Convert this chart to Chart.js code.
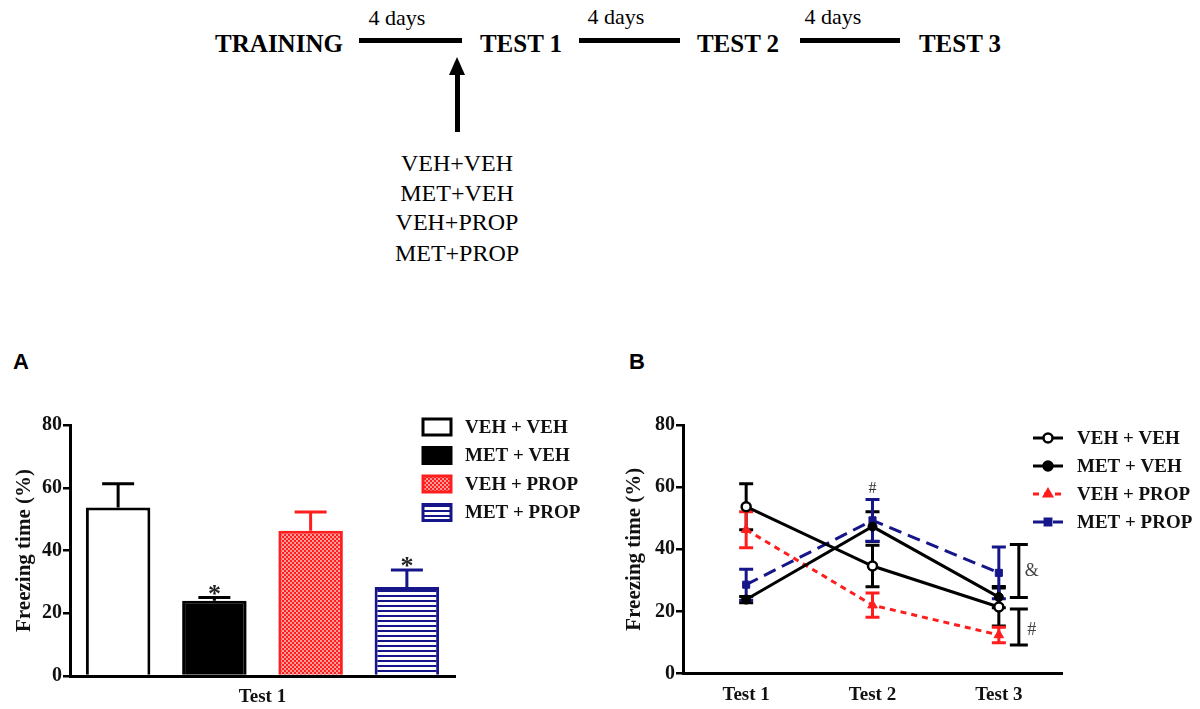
<!DOCTYPE html>
<html>
<head>
<meta charset="utf-8">
<script src="https://cdn.jsdelivr.net/npm/chart.js@4/dist/chart.umd.min.js"></script>
<style>
body{margin:0;width:1200px;height:709px;background:#fff;position:relative;overflow:hidden;font-family:"Liberation Serif",serif;color:#000;}
.t{position:absolute;white-space:nowrap;transform:translate(-50%,-50%);line-height:1;}
.b{font-weight:bold;font-size:25px;}
.d{font-size:22px;}
.g{font-size:24px;}
.p{font-family:"Liberation Sans",Arial,sans-serif;font-weight:bold;font-size:22px;}
.ln{position:absolute;height:5px;background:#000;top:38px;}
#shaft{position:absolute;left:455px;top:72px;width:5px;height:60px;background:#000;}
#head{position:absolute;left:449px;top:57px;width:0;height:0;border-left:8.5px solid transparent;border-right:8.5px solid transparent;border-bottom:18px solid #000;}
.box{position:absolute;top:400px;width:600px;height:309px;}
</style>
</head>
<body>
<!-- timeline -->
<div class="t b" style="left:279px;top:43px">TRAINING</div>
<div class="t b" style="left:521px;top:43px">TEST 1</div>
<div class="t b" style="left:738px;top:43px">TEST 2</div>
<div class="t b" style="left:960px;top:43px">TEST 3</div>
<div class="t d" style="left:397px;top:18px">4 days</div>
<div class="t d" style="left:616px;top:17px">4 days</div>
<div class="t d" style="left:833px;top:17px">4 days</div>
<div class="ln" style="left:359px;width:103px"></div>
<div class="ln" style="left:579px;width:101px"></div>
<div class="ln" style="left:800px;width:100px"></div>
<div id="head"></div><div id="shaft"></div>
<div class="t g" style="left:457px;top:163px">VEH+VEH</div>
<div class="t g" style="left:457px;top:193px">MET+VEH</div>
<div class="t g" style="left:457px;top:222px">VEH+PROP</div>
<div class="t g" style="left:457px;top:253px">MET+PROP</div>
<div class="t p" style="left:21px;top:362px">A</div>
<div class="t p" style="left:637px;top:362px">B</div>

<div class="box" style="left:0"><canvas id="chartA"></canvas></div>
<div class="box" style="left:600px"><canvas id="chartB"></canvas></div>

<script>
// groups and values (freezing time %, mean and SEM)
var groups = ['VEH + VEH', 'MET + VEH', 'VEH + PROP', 'MET + PROP'];
var barCategory = ['Test 1'];
var barMean = [53.7, 24.0, 46.3, 28.4];
var barSem = [7.6, 1.0, 6.0, 5.4];
var barMarks = ['', '*', '', '*'];

var sessions = ['Test 1', 'Test 2', 'Test 3'];
var vehVeh = [53.7, 34.6, 21.4];
var vehVehSem = [7.4, 6.7, 6.1];
var metVeh = [23.8, 47.3, 24.6];
var metVehSem = [1.0, 4.8, 3.4];
var vehProp = [46.3, 22.0, 12.4];
var vehPropSem = [5.8, 3.9, 2.5];
var metProp = [28.6, 49.3, 32.4];
var metPropSem = [5.0, 6.7, 8.3];
var sessionMarks = ['', '#', ''];
var brackets = [[24.5, 41.5, '&'], [9.2, 20.8, '#']];

var yTicks = [0, 20, 40, 60, 80];

var RED = '#ff1e1e';
var NAVY = '#16168a';
var SERIF = '"Liberation Serif", "Times New Roman", serif';

function makePattern(kind) {
    var c = document.createElement('canvas');
    var x = c.getContext('2d');
    if (kind == 'red') {
        c.width = 4; c.height = 4;
        x.fillStyle = RED; x.fillRect(0, 0, 4, 4);
        x.fillStyle = '#ff9a9a';
        x.fillRect(0, 0, 2, 2); x.fillRect(2, 2, 2, 2);
    } else {
        c.width = 8; c.height = 5;
        x.fillStyle = '#fff'; x.fillRect(0, 0, 8, 5);
        x.fillStyle = NAVY; x.fillRect(0, 0, 8, 2);
    }
    return x.createPattern(c, 'repeat');
}

// error bars, only upward for bars, both ways for lines
function errorBars(upOnly, cap, before) {
    var draw = function (chart) {
        var ctx = chart.ctx, y = chart.scales.y;
        chart.data.datasets.forEach(function (ds, i) {
            var meta = chart.getDatasetMeta(i);
            meta.data.forEach(function (el, j) {
                var v = ds.data[j], e = ds.sem[j];
                var top = y.getPixelForValue(v + e);
                var bot = y.getPixelForValue(upOnly ? v : v - e);
                ctx.save();
                ctx.strokeStyle = ds.errColor;
                ctx.lineWidth = 3;
                ctx.beginPath();
                ctx.moveTo(el.x, bot); ctx.lineTo(el.x, top);
                ctx.moveTo(el.x - cap, top); ctx.lineTo(el.x + cap, top);
                if (!upOnly) { ctx.moveTo(el.x - cap, bot); ctx.lineTo(el.x + cap, bot); }
                ctx.stroke();
                ctx.restore();
            });
        });
    };
    var p = { id: 'errorBars' };
    if (before) p.beforeDatasetsDraw = draw; else p.afterDatasetsDraw = draw;
    return p;
}

var starsA = {
    id: 'starsA',
    afterDatasetsDraw: function (chart) {
        var ctx = chart.ctx, y = chart.scales.y;
        chart.data.datasets.forEach(function (ds, i) {
            if (!barMarks[i]) return;
            var el = chart.getDatasetMeta(i).data[0];
            ctx.save();
            ctx.fillStyle = '#222';
            ctx.font = 'bold 26px ' + SERIF;
            ctx.textAlign = 'center';
            ctx.textBaseline = 'alphabetic';
            ctx.fillText(barMarks[i], el.x, y.getPixelForValue(ds.data[0] + ds.sem[0]) + 4);
            ctx.restore();
        });
    }
};

var legendA = {
    id: 'legendA',
    afterDraw: function (chart) {
        var ctx = chart.ctx;
        chart.data.datasets.forEach(function (ds, i) {
            var y = 27 + i * 28.5;
            ctx.save();
            ctx.fillStyle = ds.backgroundColor;
            ctx.fillRect(423, y - 8, 28, 16);
            ctx.lineWidth = 3;
            ctx.strokeStyle = ds.borderColor;
            ctx.strokeRect(423, y - 8, 28, 16);
            ctx.fillStyle = '#111';
            ctx.font = 'bold 19px ' + SERIF;
            ctx.textBaseline = 'middle';
            ctx.fillText(ds.label, 465, y + 1);
            ctx.restore();
        });
    }
};

var legendB = {
    id: 'legendB',
    afterDraw: function (chart) {
        var ctx = chart.ctx;
        chart.data.datasets.forEach(function (ds, i) {
            var y = 38 + i * 28;
            ctx.save();
            ctx.strokeStyle = ds.borderColor;
            ctx.lineWidth = 3;
            ctx.setLineDash(ds.borderDash || []);
            ctx.beginPath(); ctx.moveTo(433, y); ctx.lineTo(463, y); ctx.stroke();
            ctx.setLineDash([]);
            ctx.fillStyle = ds.pointBackgroundColor;
            ctx.strokeStyle = ds.pointBorderColor;
            ctx.lineWidth = 2.5;
            Chart.helpers.drawPoint(ctx, { pointStyle: ds.pointStyle, radius: 4.5, rotation: 0, borderWidth: 2.5 }, 448, y);
            ctx.fillStyle = '#111';
            ctx.font = 'bold 19px ' + SERIF;
            ctx.textBaseline = 'middle';
            ctx.fillText(ds.label, 477, y + 1);
            ctx.restore();
        });
    }
};

var notesB = {
    id: 'notesB',
    afterDatasetsDraw: function (chart) {
        var ctx = chart.ctx, x = chart.scales.x, y = chart.scales.y;
        ctx.save();
        ctx.fillStyle = '#333';
        ctx.font = '16px ' + SERIF;
        ctx.textAlign = 'center';
        ctx.textBaseline = 'middle';
        sessionMarks.forEach(function (m, j) {
            if (m) ctx.fillText(m, x.getPixelForValue(j), y.getPixelForValue(Math.max(metProp[j] + metPropSem[j], vehVeh[j]) + 3.5));
        });
        var bx = x.getPixelForValue(sessions.length - 1) + 20;
        ctx.strokeStyle = '#000';
        ctx.lineWidth = 3;
        brackets.forEach(function (b) {
            var y0 = y.getPixelForValue(b[0]), y1 = y.getPixelForValue(b[1]);
            ctx.beginPath();
            ctx.moveTo(bx, y0); ctx.lineTo(bx, y1);
            ctx.moveTo(bx - 9, y0); ctx.lineTo(bx + 9, y0);
            ctx.moveTo(bx - 9, y1); ctx.lineTo(bx + 9, y1);
            ctx.stroke();
            ctx.font = '18px ' + SERIF;
            ctx.fillStyle = '#444';
            ctx.fillText(b[2], bx + 13, (y0 + y1) / 2 + (b[2] == '#' ? 3 : 0));
        });
        ctx.restore();
    }
};

function yAxis(width, titlePad) {
    return {
        min: 0, max: 80,
        afterBuildTicks: function (s) { s.ticks = yTicks.map(function (v) { return { value: v }; }); },
        afterFit: function (s) { s.width = width; },
        border: { color: '#000', width: 3 },
        grid: { display: true, drawOnChartArea: false, drawTicks: true, tickLength: 7, color: '#000', lineWidth: 2.5 },
        ticks: { color: '#111', padding: 1, font: { family: SERIF, size: 20, weight: 'bold' } },
        title: { display: true, text: 'Freezing time (%)', color: '#111', padding: { top: titlePad, bottom: 0 },
                 font: { family: SERIF, size: 21, weight: 'bold' } }
    };
}

function xAxis(height) {
    return {
        afterFit: function (s) { s.height = height; },
        border: { color: '#000', width: 3 },
        grid: { display: false, drawTicks: false },
        ticks: { color: '#111', padding: 10, font: { family: SERIF, size: 19, weight: 'bold' } }
    };
}

Chart.defaults.animation = false;

var barBorders = ['#000', '#000', RED, NAVY];
var barFills = ['#fff', '#000', makePattern('red'), makePattern('blue')];

new Chart(document.getElementById('chartA'), {
    type: 'bar',
    data: {
        labels: barCategory,
        datasets: groups.map(function (g, i) {
            return {
                label: g,
                data: [barMean[i]],
                sem: [barSem[i]],
                backgroundColor: barFills[i],
                borderColor: barBorders[i],
                errColor: barBorders[i],
                borderWidth: 3,
                borderSkipped: 'bottom',
                categoryPercentage: 1.0,
                barPercentage: 0.67
            };
        })
    },
    options: {
        responsive: true,
        maintainAspectRatio: false,
        layout: { padding: { left: 0, top: 25, right: 145, bottom: 0 } },
        plugins: { legend: { display: false }, tooltip: { enabled: false } },
        scales: { x: xAxis(33), y: yAxis(70, 12) }
    },
    plugins: [errorBars(true, 16, false), starsA, legendA]
});

new Chart(document.getElementById('chartB'), {
    type: 'line',
    data: {
        labels: sessions,
        datasets: [{
            label: groups[0], data: vehVeh, sem: vehVehSem, errColor: '#000',
            borderColor: '#000', borderWidth: 3,
            pointStyle: 'circle', pointRadius: 4.5, pointBackgroundColor: '#fff', pointBorderColor: '#000', pointBorderWidth: 2.5
        }, {
            label: groups[1], data: metVeh, sem: metVehSem, errColor: '#000',
            borderColor: '#000', borderWidth: 3,
            pointStyle: 'circle', pointRadius: 4.5, pointBackgroundColor: '#000', pointBorderColor: '#000', pointBorderWidth: 1
        }, {
            label: groups[2], data: vehProp, sem: vehPropSem, errColor: RED,
            borderColor: RED, borderWidth: 3, borderDash: [6, 5],
            pointStyle: 'triangle', pointRadius: 5.5, pointBackgroundColor: RED, pointBorderColor: RED, pointBorderWidth: 1
        }, {
            label: groups[3], data: metProp, sem: metPropSem, errColor: NAVY,
            borderColor: NAVY, borderWidth: 3, borderDash: [13, 7],
            pointStyle: 'rect', pointRadius: 5, pointBackgroundColor: NAVY, pointBorderColor: NAVY, pointBorderWidth: 1
        }]
    },
    options: {
        responsive: true,
        maintainAspectRatio: false,
        layout: { padding: { left: 0, top: 25, right: 138, bottom: 0 } },
        plugins: { legend: { display: false }, tooltip: { enabled: false } },
        scales: { x: Object.assign(xAxis(35.5), { offset: true }), y: yAxis(83, 22) }
    },
    plugins: [errorBars(false, 7, true), notesB, legendB]
});
</script>
</body>
</html>
